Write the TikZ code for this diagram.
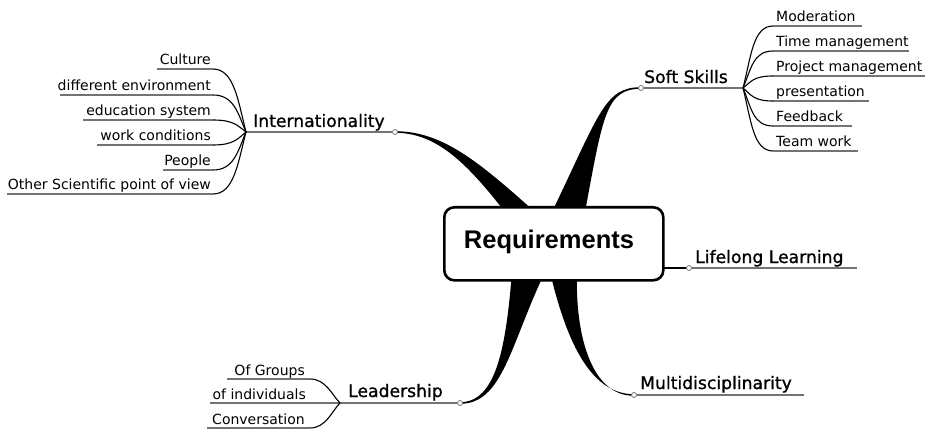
\documentclass[tikz,border=0pt]{standalone}
\usepackage{fontspec}
\setmainfont{DejaVu Sans}
\newfontfamily\topicfont[FakeBold=1]{DejaVu Sans}
\newfontfamily\reqfont{Liberation Sans}
\begin{document}
\begin{tikzpicture}[x=1pt,y=-1pt,
  sublabel/.style={font=\fontsize{14}{16}\selectfont, inner sep=0pt},
  topiclabel/.style={font=\topicfont\fontsize{17.2}{20}\selectfont, inner sep=0pt},
  uline/.style={draw=black!55, line width=1.8},
  twig/.style={draw=black, line width=1.1},
  joint/.style={circle, draw=black!55, fill=white, line width=0.8, minimum size=5pt, inner sep=0pt},
  branch/.style={fill=black},
  centerbox/.style={draw=black, line width=2.6, rounded corners=10pt, fill=white,
    minimum width=219pt, minimum height=73pt, inner sep=0pt}]
\useasboundingbox (0,0) rectangle (925,430);

% ---- tapered main branches (drawn below the central box)
\fill[branch] (395,131.2) .. controls (442,131.2) and (478,161) .. (535,212) -- (505,212)
  .. controls (466,162) and (436,132.8) .. (395,132.8) -- cycle;
\fill[branch] (641,87.2) .. controls (605,87.2) and (600,112) .. (552,212) -- (585,212)
  .. controls (603,115) and (606,88.8) .. (641,88.8) -- cycle;
\fill[branch] (460,402.2) .. controls (497,402.2) and (506,345) .. (512,272) -- (545,272)
  .. controls (510,345) and (503,403.8) .. (460,403.8) -- cycle;
\fill[branch] (634,394.2) .. controls (588,394.2) and (565,335) .. (550,272) -- (577,272)
  .. controls (575,332) and (590,395.8) .. (634,395.8) -- cycle;

% ---- central box
\node[centerbox, anchor=north west] (req) at (443,206) {};
\node[font=\reqfont\bfseries\fontsize{25.5}{30}\selectfont, inner sep=0pt, anchor=base] (reqtext) at (549,248) {Requirements};

% ---- Internationality
\coordinate (intfan) at (246,132);
\node[joint] (intdot) at (395,132) {};
\draw[uline] (intfan) -- (intdot);
\node[topiclabel, anchor=base west] (int) at (253,127) {Internationality};
\foreach \t/\y/\xs [count=\i] in {Culture/69/157, different environment/95/60,
    education system/120/83, work conditions/145/97, People/170/163,
    Other Scientific point of view/194/7} {
  \coordinate (ls\i) at (\xs,\y);
  \coordinate (le\i) at (213,\y);
  \draw[uline] (ls\i) -- (le\i);
  \draw[twig] (le\i) .. controls (234,\y) and (238,{132+(\y-132)*0.5}) .. (intfan);
  \node[sublabel, anchor=base east] (lt\i) at (211,\y-4) {\t};
}

% ---- Soft Skills
\coordinate (ssfan) at (743,88);
\node[joint] (ssdot) at (641,88) {};
\draw[uline] (ssdot) -- (ssfan);
\node[topiclabel, anchor=base west] (ss) at (644,83) {Soft Skills};
\foreach \t/\y/\xe [count=\i] in {Moderation/26/862, Time management/51/909,
    Project management/76/925, presentation/101/869, Feedback/126/852,
    Team work/151/858} {
  \coordinate (rs\i) at (773,\y);
  \coordinate (re\i) at (\xe,\y);
  \draw[uline] (rs\i) -- (re\i);
  \draw[twig] (ssfan) .. controls (751,{88+(\y-88)*0.5}) and (753,\y) .. (rs\i);
  \node[sublabel, anchor=base west] (rt\i) at (776,\y-4) {\t};
}

% ---- Lifelong Learning
\coordinate (llstart) at (662,268);
\node[joint] (lldot) at (689,268) {};
\coordinate (llend) at (857,268);
\draw[twig] (llstart) -- (lldot);
\draw[uline] (lldot) -- (llend);
\node[topiclabel, anchor=base west] (ll) at (695,263) {Lifelong Learning};

% ---- Multidisciplinarity
\node[joint] (mddot) at (634,395) {};
\coordinate (mdend) at (804,395);
\draw[uline] (mddot) -- (mdend);
\node[topiclabel, anchor=base west] (md) at (640,389) {Multidisciplinarity};

% ---- Leadership
\coordinate (ldfan) at (340,403);
\node[joint] (lddot) at (460,403) {};
\draw[uline] (ldfan) -- (lddot);
\node[topiclabel, anchor=base west] (ld) at (348,397) {Leadership};
\coordinate (og1) at (227,379); \coordinate (og2) at (310,379);
\coordinate (oi1) at (210,403);
\coordinate (cv1) at (207,428); \coordinate (cv2) at (310,428);
\draw[uline] (og1) -- (og2);
\draw[uline] (oi1) -- (ldfan);
\draw[uline] (cv1) -- (cv2);
\draw[twig] (og2) .. controls (326,379) and (332,395) .. (ldfan);
\draw[twig] (cv2) .. controls (326,428) and (332,411) .. (ldfan);
\node[sublabel, anchor=base east] (ogt) at (305,375) {Of Groups};
\node[sublabel, anchor=base east] (oit) at (306,399) {of individuals};
\node[sublabel, anchor=base east] (cvt) at (305,424) {Conversation};
\end{tikzpicture}
\end{document}
